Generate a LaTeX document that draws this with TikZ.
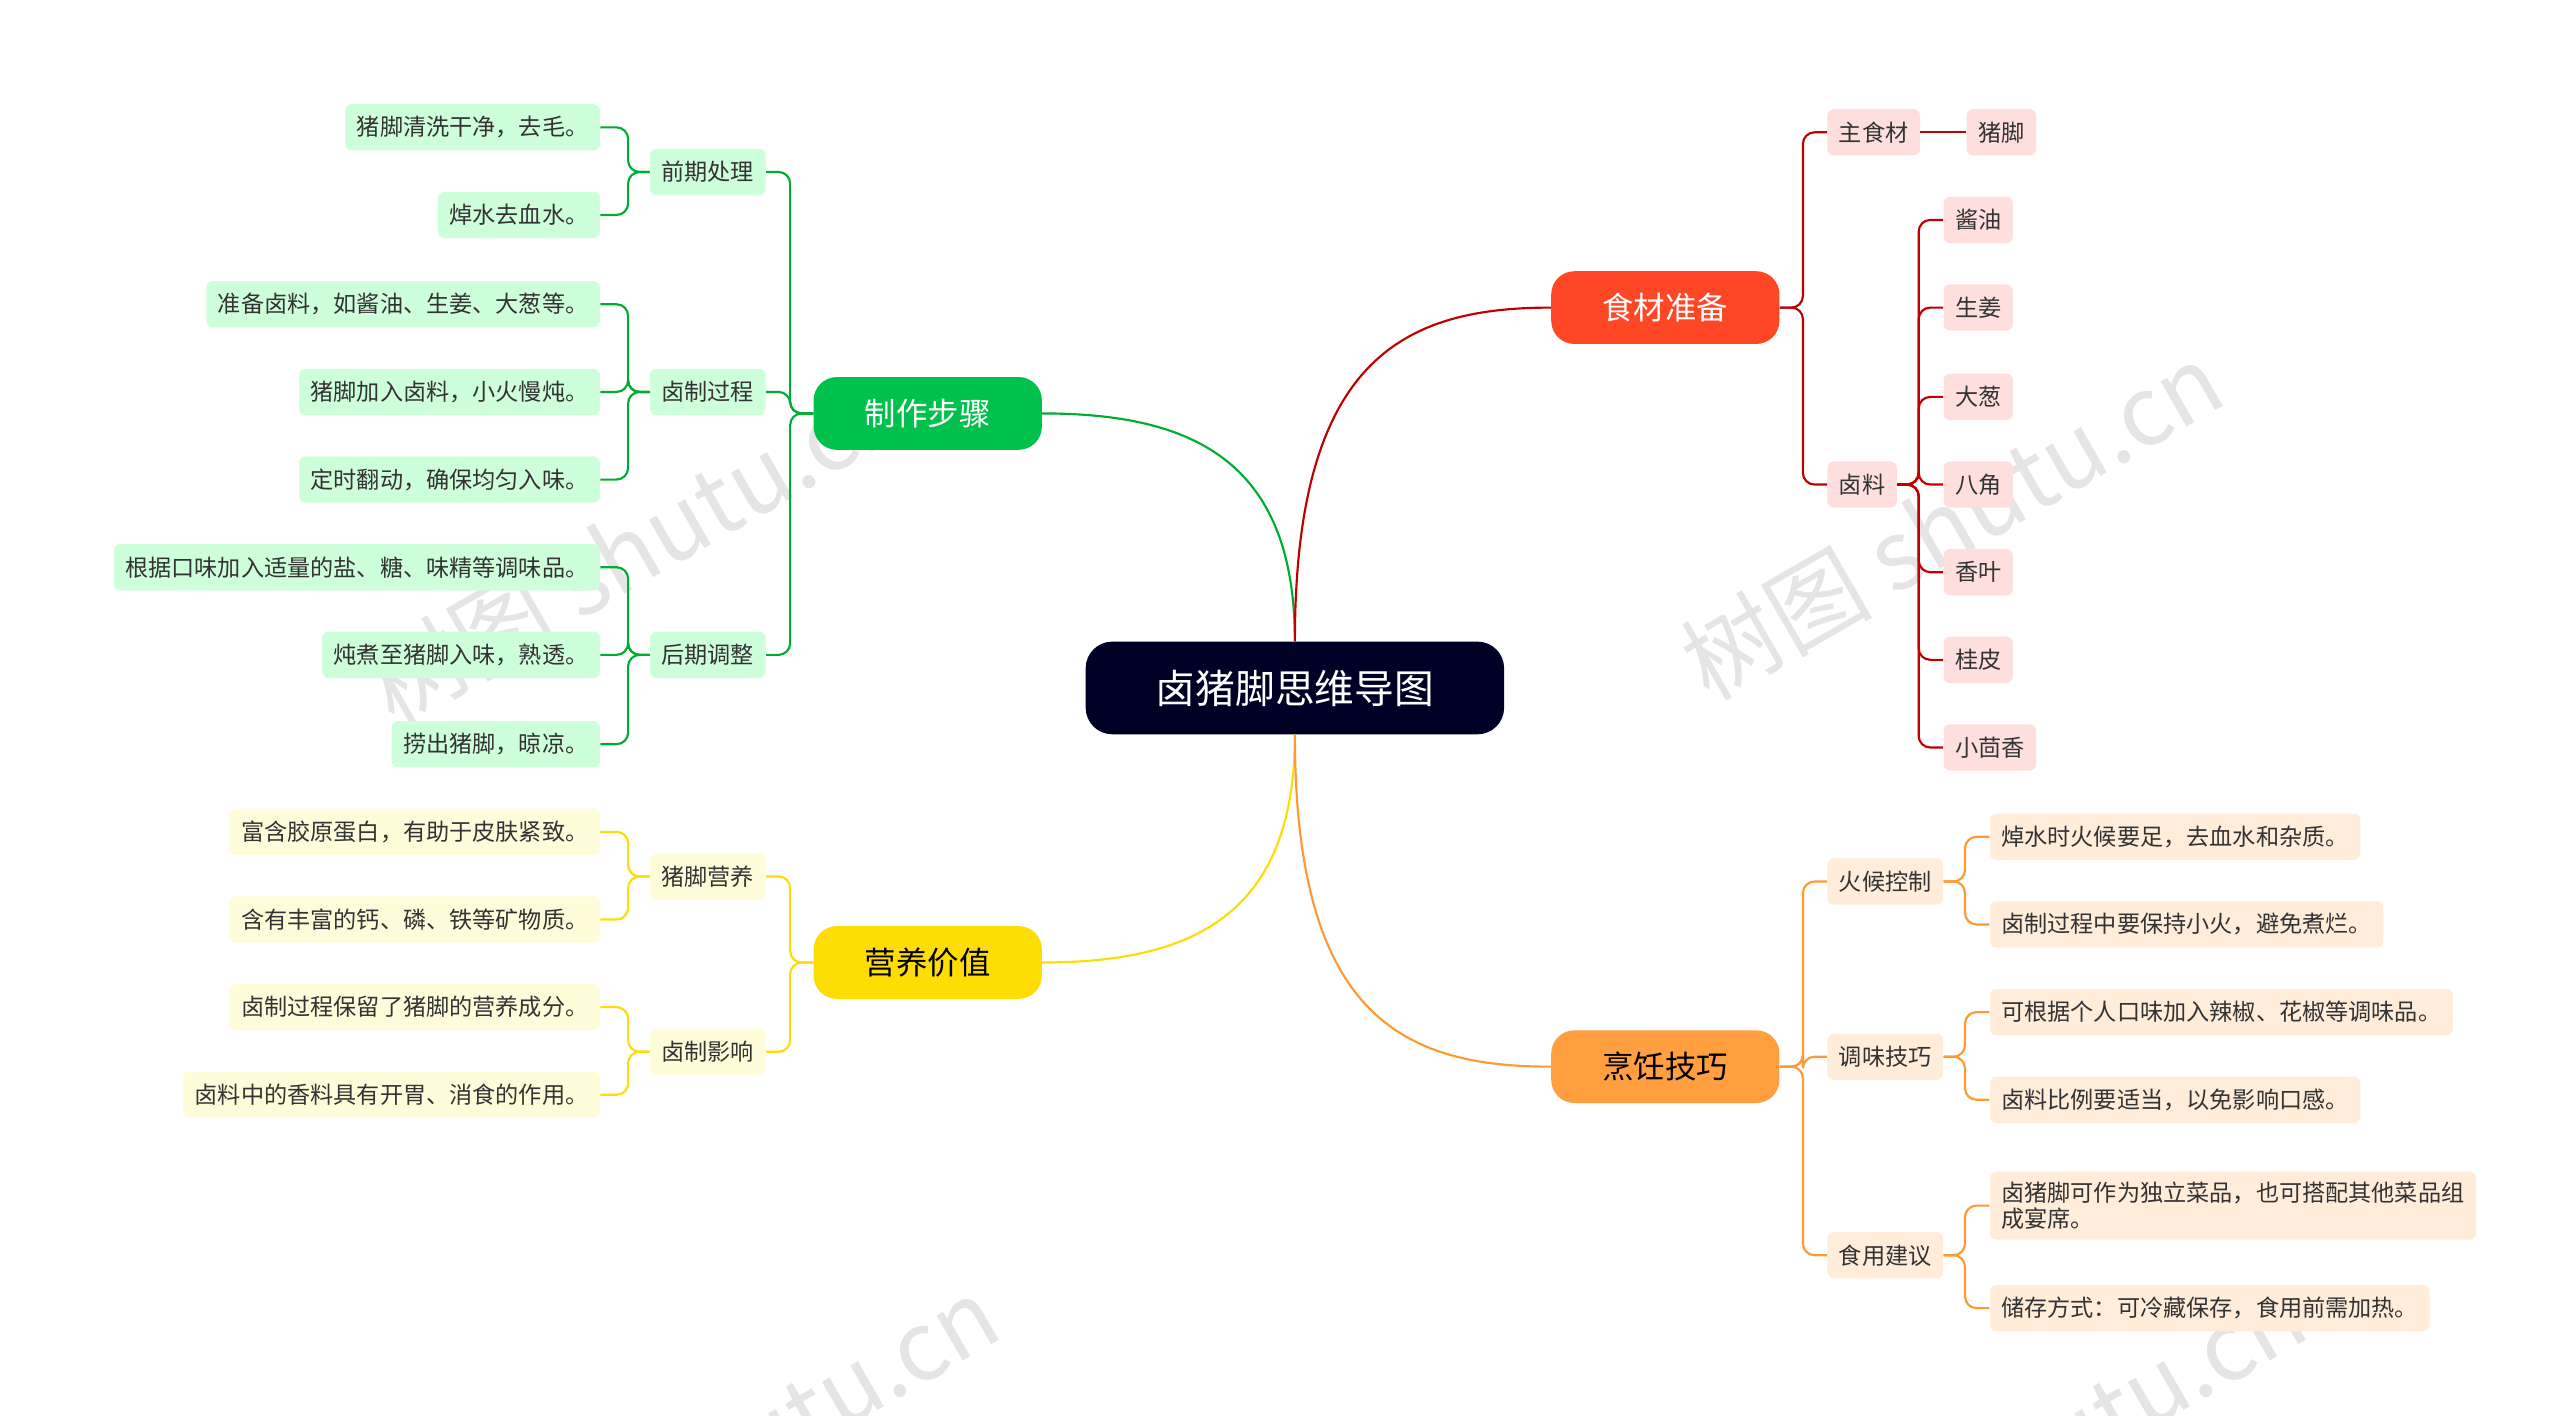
\documentclass[tikz,border=0pt]{standalone}
\usepackage{fontspec}
\setmainfont{Noto Sans CJK SC}
\begin{document}
\begin{tikzpicture}[x=1pt,y=1pt,
 box/.style={rounded corners=4pt,inner xsep=7pt,minimum height=28pt,font=\fontsize{14}{16}\selectfont,text=black!80},
 gl/.style={box,fill=green!15!white!95!cyan},
 yl/.style={box,fill=yellow!15},
 rl/.style={box,fill=red!13},
 ol/.style={box,fill=orange!15},
 mainb/.style={rounded corners=14pt,minimum width=138pt,minimum height=44pt,text=white,font=\fontsize{19}{22}\selectfont},
 gc/.style={draw=green!60!black!80!cyan,line width=1.3pt,rounded corners=7pt},
 yc/.style={draw=yellow!80!orange,line width=1.3pt,rounded corners=7pt},
 rc/.style={draw=red!75!black,line width=1.3pt,rounded corners=7pt},
 oc/.style={draw=orange!80,line width=1.3pt,rounded corners=7pt},
 wm/.style={text=black!10,font=\fontsize{58}{60}\selectfont,rotate=30}]
\useasboundingbox (0,0) rectangle (1548,-856);
\fill[white] (0,0) rectangle (1548,-856);
\node[wm] (w1) at (385,-330) {树图 shutu.cn};
\node[wm] (w2) at (1180,-315) {树图 shutu.cn};
\node[wm] (w3) at (440,-880) {树图 shutu.cn};
\node[wm] (w4) at (1230,-880) {树图 shutu.cn};
% center
\node[fill=black!85!blue,rounded corners=16pt,minimum width=253pt,minimum height=56pt,text=white,font=\fontsize{24}{28}\selectfont] (c) at (783,-416) {卤猪脚思维导图};
\node[mainb,fill=green!65!black!70!cyan] (g) at (561,-250) {制作步骤};
\node[mainb,fill=yellow!80!orange,text=black] (y) at (561,-582) {营养价值};
\node[mainb,fill=red!70!orange!85!white] (r) at (1007,-186) {食材准备};
\node[mainb,fill=orange!75,text=black] (o) at (1007,-645) {烹饪技巧};
\draw[gc] (c.north) .. controls +(0,110) and +(90,0) .. (g.east);
\draw[rc] (c.north) .. controls +(0,170) and +(-90,0) .. (r.west);
\draw[yc] (c.south) .. controls +(0,-110) and +(90,0) .. (y.east);
\draw[oc] (c.south) .. controls +(0,-170) and +(-90,0) .. (o.west);
% green
\node[gl] (g1) at (428,-104) {前期处理};
\node[gl] (g2) at (428,-237) {卤制过程};
\node[gl] (g3) at (428,-396) {后期调整};
\foreach \n in {g1,g2,g3} \draw[gc] (g.west) -- ++(-14,0) |- (\n.east);
\node[gl,anchor=east] (a1) at (363,-77) {猪脚清洗干净，去毛。};
\node[gl,anchor=east] (a2) at (363,-130) {焯水去血水。};
\node[gl,anchor=east] (a3) at (363,-184) {准备卤料，如酱油、生姜、大葱等。};
\node[gl,anchor=east] (a4) at (363,-237) {猪脚加入卤料，小火慢炖。};
\node[gl,anchor=east] (a5) at (363,-290) {定时翻动，确保均匀入味。};
\node[gl,anchor=east] (a6) at (363,-343) {根据口味加入适量的盐、糖、味精等调味品。};
\node[gl,anchor=east] (a7) at (363,-396) {炖煮至猪脚入味，熟透。};
\node[gl,anchor=east] (a8) at (363,-450) {捞出猪脚，晾凉。};
\foreach \p/\n in {g1/a1,g1/a2,g2/a3,g2/a4,g2/a5,g3/a6,g3/a7,g3/a8} \draw[gc] (\p.west) -- ++(-13,0) |- (\n.east);
% yellow
\node[yl] (y1) at (428,-530) {猪脚营养};
\node[yl] (y2) at (428,-636) {卤制影响};
\foreach \n in {y1,y2} \draw[yc] (y.west) -- ++(-14,0) |- (\n.east);
\node[yl,anchor=east] (b1) at (363,-503) {富含胶原蛋白，有助于皮肤紧致。};
\node[yl,anchor=east] (b2) at (363,-556) {含有丰富的钙、磷、铁等矿物质。};
\node[yl,anchor=east] (b3) at (363,-609) {卤制过程保留了猪脚的营养成分。};
\node[yl,anchor=east] (b4) at (363,-662) {卤料中的香料具有开胃、消食的作用。};
\foreach \p/\n in {y1/b1,y1/b2,y2/b3,y2/b4} \draw[yc] (\p.west) -- ++(-13,0) |- (\n.east);
% red
\node[rl] (r1) at (1133,-80) {主食材};
\node[rl] (r2) at (1126,-293) {卤料};
\foreach \n in {r1,r2} \draw[rc] (r.east) -- ++(14,0) |- (\n.west);
\node[rl,anchor=west] (s0) at (1189,-80) {猪脚};
\draw[rc] (r1.east) -- (s0.west);
\foreach \t/\yy/\k in {酱油/133/1,生姜/186/2,大葱/240/3,八角/293/4,香叶/346/5,桂皮/399/6,小茴香/452/7}{
 \node[rl,anchor=west] (s\k) at (1175,-\yy) {\t};
 \draw[rc] (r2.east) -- ++(13,0) |- (s\k.west);}
% orange
\node[ol] (o1) at (1140,-533) {火候控制};
\node[ol] (o2) at (1140,-639) {调味技巧};
\node[ol] (o3) at (1140,-759) {食用建议};
\foreach \n in {o1,o2,o3} \draw[oc] (o.east) -- ++(14,0) |- (\n.west);
\node[ol,anchor=west] (d1) at (1203,-506) {焯水时火候要足，去血水和杂质。};
\node[ol,anchor=west] (d2) at (1203,-559) {卤制过程中要保持小火，避免煮烂。};
\node[ol,anchor=west] (d3) at (1203,-612) {可根据个人口味加入辣椒、花椒等调味品。};
\node[ol,anchor=west] (d4) at (1203,-665) {卤料比例要适当，以免影响口感。};
\node[ol,anchor=west,align=left,inner ysep=6pt] (d5) at (1203,-729) {卤猪脚可作为独立菜品，也可搭配其他菜品组\\成宴席。};
\node[ol,anchor=west] (d6) at (1203,-791) {储存方式：可冷藏保存，食用前需加热。};
\foreach \p/\n in {o1/d1,o1/d2,o2/d3,o2/d4,o3/d5,o3/d6} \draw[oc] (\p.east) -- ++(13,0) |- (\n.west);
\end{tikzpicture}
\end{document}
